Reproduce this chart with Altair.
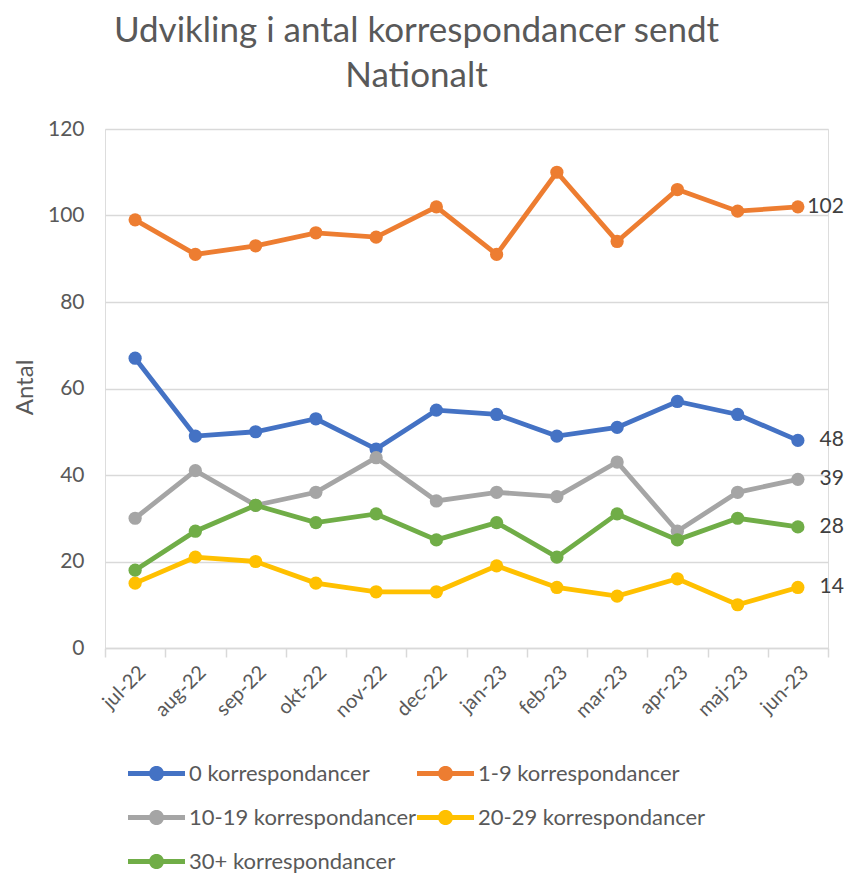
import math
import altair as alt
import pandas as pd

months = ["jul-22", "aug-22", "sep-22", "okt-22", "nov-22", "dec-22",
          "jan-23", "feb-23", "mar-23", "apr-23", "maj-23", "jun-23"]
series_names = ["0 korrespondancer", "1-9 korrespondancer", "10-19 korrespondancer",
                "20-29 korrespondancer", "30+ korrespondancer"]
s_0 = [67, 49, 50, 53, 46, 55, 54, 49, 51, 57, 54, 48]
s_1_9 = [99, 91, 93, 96, 95, 102, 91, 110, 94, 106, 101, 102]
s_10_19 = [30, 41, 33, 36, 44, 34, 36, 35, 43, 27, 36, 39]
s_20_29 = [15, 21, 20, 15, 13, 13, 19, 14, 12, 16, 10, 14]
s_30 = [18, 27, 33, 29, 31, 25, 29, 21, 31, 25, 30, 28]
colors = ["#4472C4", "#ED7D31", "#A5A5A5", "#FFC000", "#70AD47"]
y_ticks = [0, 20, 40, 60, 80, 100, 120]

all_series = [s_0, s_1_9, s_10_19, s_20_29, s_30]
rows = []
for name, vals in zip(series_names, all_series):
    for m, v in zip(months, vals):
        rows.append({"month": m, "series": name, "value": v})
df = pd.DataFrame(rows)

FONT = "Lato"
GREY = "#595959"

# legend symbol: thick line with a dot in the middle (unit coordinates)
R, H = 0.263, 0.088
a0 = math.asin(H / R)
top = []
for i in range(17):
    ang = math.pi + a0 + (math.pi - 2 * a0) * i / 16  # from left, over the top
    top.append((R * math.cos(ang), R * math.sin(ang)))
bot = [(-px, -py) for px, py in top]
pts = [(-1, -H)] + top + [(1, -H), (1, H)] + bot + [(-1, H)]
sym_path = "M" + "L".join(f"{px:.3f},{py:.3f}" for px, py in pts) + "Z"

# legend is laid out column by column: order entries so rows read as in the original
n_rows = 3
legend_order = [series_names[r * 2 + c] for c in range(2) for r in range(n_rows)
                if r * 2 + c < len(series_names)]

x = alt.X("month:N", sort=months, bandPosition=0.5, title=None,
          scale=alt.Scale(type="band", domain=months, paddingInner=0, paddingOuter=0),
          axis=alt.Axis(tickBand="extent", labelAngle=-45, labelAlign="right",
                        labelBaseline="top", labelFontSize=20, labelFont=FONT,
                        labelColor=GREY, labelPadding=5, domainColor="#d9d9d9",
                        domainWidth=1.5, tickColor="#d9d9d9", tickWidth=1.5,
                        tickSize=9, grid=False))
y = alt.Y("value:Q", title="Antal",
          scale=alt.Scale(domain=[0, 120], nice=False),
          axis=alt.Axis(values=y_ticks, domain=False, ticks=False, grid=True,
                        gridColor="#d9d9d9", gridWidth=1.3, labelFontSize=21,
                        labelFont=FONT, labelColor=GREY, labelPadding=21,
                        titleFont=FONT, titleFontSize=24, titleColor=GREY,
                        titleFontWeight="normal", titleAngle=-90,
                        titleX=-80, titleY=258, titleAlign="center",
                        titleBaseline="middle"))

color_scale = alt.Scale(domain=series_names, range=colors)
legend = alt.Legend(
    title=None, orient="none", legendX=23, legendY=631, padding=0,
    columns=2, values=legend_order, symbolType=sym_path, symbolSize=3249,
    clipHeight=27, symbolStrokeWidth=0, symbolOpacity=1, labelFont=FONT,
    labelFontSize=22, labelColor=GREY, labelOffset=4, columnPadding=0,
    rowPadding=17, labelLimit=400)

base = alt.Chart(df)
layers = []
for name, c in zip(series_names, colors):
    sub = base.transform_filter(alt.datum.series == name)
    layers.append(sub.mark_line(strokeWidth=4.8, color=c).encode(
        x=x, y=y, detail="series:N"))
    layers.append(sub.mark_circle(size=175, opacity=1).encode(
        x=x, y=y, color=alt.Color("series:N", scale=color_scale, legend=legend)))

labels = base.transform_filter(alt.datum.month == months[-1]).mark_text(
    align="right", baseline="middle", dx=46, fontSize=21, font=FONT, color="#404040"
).encode(x=x, y=y, text="value:Q")
layers.append(labels)

chart = alt.layer(*layers).properties(
    width=723, height=519,
    autosize=alt.AutoSizeParams(type="none"),
    padding={"left": 97, "top": 121, "right": 16, "bottom": 226},
    title=alt.Title(["Udvikling i antal korrespondancer sendt", "Nationalt"],
                    fontSize=35, font=FONT, color=GREY, fontWeight="normal",
                    anchor="middle", dx=-50, offset=24, lineHeight=45),
).configure_view(stroke=None).configure(background="white")

chart.save("out.html", embed_options={"renderer": "svg", "actions": False})
